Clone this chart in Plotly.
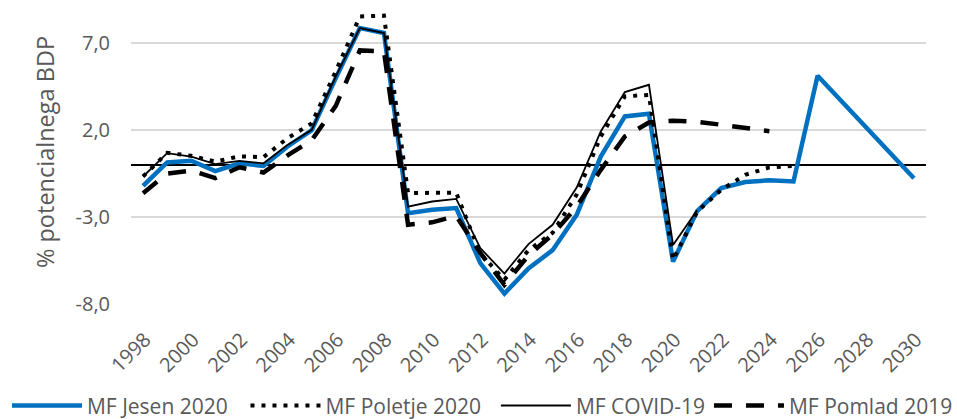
import plotly.graph_objects as go

years = list(range(1998, 2031))

jesen_2020 = [-1.2, 0.15, 0.25, -0.35, 0.1, -0.05, 1.07, 2.0, 5.0, 7.88, 7.6,
              -2.77, -2.58, -2.48, -5.65, -7.4, -5.95, -4.9, -2.87, 0.49, 2.8,
              2.95, -5.56, -2.65, -1.33, -0.98, -0.88, -0.95, 5.14, None, None,
              None, -0.76]

poletje_2020 = [-0.66, 0.7, 0.53, 0.2, 0.5, 0.45, 1.55, 2.4, 5.4, 8.55, 8.6,
                -1.62, -1.6, -1.6, -5.1, -6.6, -4.9, -3.9, -1.7, 1.64, 3.95,
                4.04, -5.46, -2.68, -1.43, -0.56, -0.14, -0.05, None, None,
                None, None, None]

covid_19 = [-0.66, 0.68, 0.49, 0.05, 0.24, 0.1, 1.16, 2.03, 5.1, 7.88, 7.6,
            -2.39, -2.1, -1.95, -4.78, -6.25, -4.55, -3.44, -1.3, 1.93, 4.2,
            4.62, -4.6, -2.6, None, None, None, None, None, None, None, None,
            None]

pomlad_2019 = [-1.62, -0.5, -0.32, -0.75, -0.13, -0.43, 0.55, 1.43, 3.41, 6.6,
               6.55, -3.44, -3.3, -2.93, -5.06, -6.9, -5.2, -4.0, -2.4, -0.28,
               1.64, 2.45, 2.55, 2.49, 2.32, 2.12, 1.95, None, None, None, None,
               None, None]

series_names = ["MF Jesen 2020", "MF Poletje 2020", "MF COVID-19", "MF Pomlad 2019"]

y_ticks = [-8, -3, 2, 7]
y_tick_labels = ["-8,0", "-3,0", "2,0", "7,0"]
x_ticks = list(range(1998, 2031, 2))

FONT = "Open Sans, Calibri, Carlito, sans-serif"
GRAY = "#595959"

fig = go.Figure()
fig.add_trace(go.Scatter(x=years, y=jesen_2020, name=series_names[0], mode="lines",
                         connectgaps=True, legend="legend",
                         line=dict(color="#0070C0", width=4.5)))
fig.add_trace(go.Scatter(x=years, y=poletje_2020, name=series_names[1], mode="lines",
                         legend="legend2",
                         line=dict(color="black", width=4, dash="4px,7px")))
fig.add_trace(go.Scatter(x=years, y=covid_19, name=series_names[2], mode="lines",
                         legend="legend3",
                         line=dict(color="black", width=1.8)))
fig.add_trace(go.Scatter(x=years, y=pomlad_2019, name=series_names[3], mode="lines",
                         legend="legend4",
                         line=dict(color="black", width=4.5, dash="18px,14px")))

def leg(xpos):
    return dict(orientation="h", x=xpos, xanchor="left", y=-0.335, yanchor="middle",
                font=dict(family=FONT, size=21, color=GRAY),
                itemwidth=70, bgcolor="rgba(0,0,0,0)")

fig.update_layout(
    width=957, height=419,
    margin=dict(l=131, r=31, t=0, b=115, autoexpand=False),
    paper_bgcolor="white", plot_bgcolor="white",
    font=dict(family=FONT, color=GRAY, size=20),
    showlegend=True,
    legend=leg(-0.156),
    legend2=leg(0.144),
    legend3=leg(0.459),
    legend4=leg(0.727),
    xaxis=dict(range=[1997.5, 2030.5], tickvals=x_ticks, tickangle=-45,
               showgrid=False, zeroline=False, showline=False,
               ticks="outside", ticklen=15, tickcolor="rgba(0,0,0,0)",
               ticklabelshift=2,
               tickfont=dict(family=FONT, size=20, color=GRAY)),
    yaxis=dict(range=[-8, 9.5], tickvals=y_ticks, ticktext=y_tick_labels,
               showgrid=True, gridcolor="#d9d9d9", gridwidth=1.5,
               zeroline=True, zerolinecolor="black", zerolinewidth=1.5,
               showline=False,
               ticks="outside", ticklen=16, tickcolor="rgba(0,0,0,0)",
               tickfont=dict(family=FONT, size=20, color=GRAY),
               title=dict(text="% potencialnega BDP",
                          font=dict(family=FONT, size=23.5, color=GRAY),
                          standoff=14)),
)

fig.write_html("out.html", config={"displayModeBar": False},
               post_script="document.body.style.margin='0px';")
